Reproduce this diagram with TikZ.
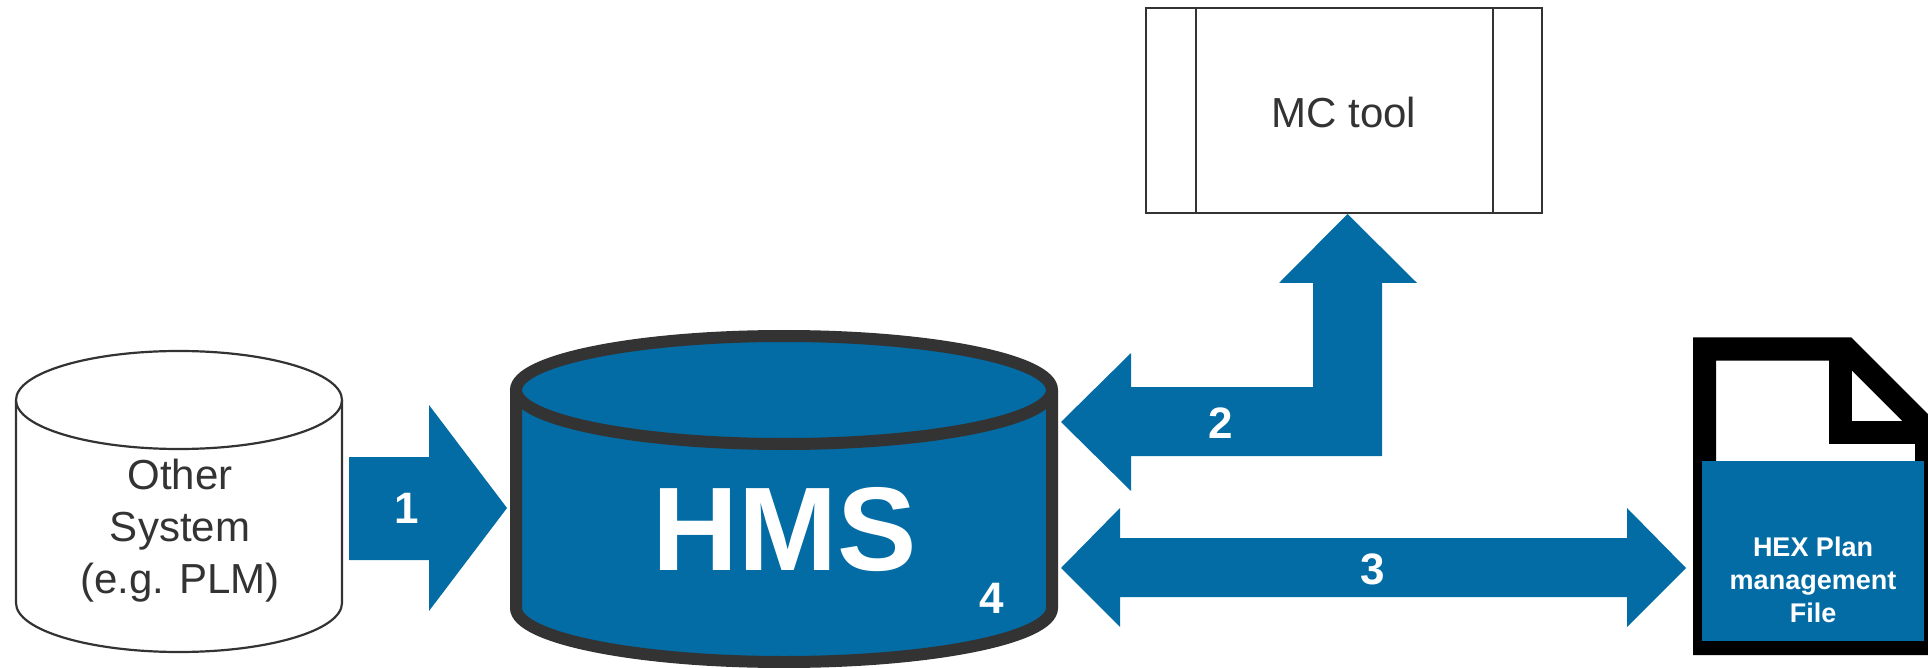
\documentclass[tikz,border=0pt]{standalone}
\usepackage{fontspec}
\setmainfont{Liberation Sans}
\definecolor{hmsblue}{RGB}{3,108,165}
\definecolor{ink}{RGB}{51,51,51}

\begin{document}
\begin{tikzpicture}[x=1pt,y=1pt,
  blockarrow/.style={fill=hmsblue,draw=none},
  numlabel/.style={text=white,inner sep=0pt,font=\fontsize{44}{44}\selectfont\bfseries},
  graytext/.style={text=ink,inner sep=0pt,align=center,font=\fontsize{42}{52}\selectfont},
  thinline/.style={draw=ink,line width=2.2pt},
  docline/.style={draw=black,line width=23pt,line join=miter}]
\useasboundingbox (0,0) rectangle (1928,-668);

% Other System: plain cylinder
\path[thinline,fill=white] (16,-400) -- (16,-603)
  arc[start angle=180,end angle=360,x radius=163,y radius=49] -- (342,-400);
\path[thinline,fill=white] (179,-400) ellipse[x radius=163,y radius=49];
\node[graytext] (other) at (180,-531) {Other\\System\\(e.g. PLM)};

% HMS: filled cylinder with heavy outline
\path[draw=ink,line width=12pt,fill=hmsblue] (516,-390) -- (516,-608)
  arc[start angle=180,end angle=360,x radius=268,y radius=54] -- (1052,-390);
\path[draw=ink,line width=12pt,fill=hmsblue] (784,-390) ellipse[x radius=268,y radius=54];
\node[text=white,inner sep=0pt,font=\fontsize{119}{119}\selectfont\bfseries] (hms) at (785,-530) {HMS};
\node[numlabel] (n4) at (992,-598) {4};

% MC tool: predefined-process box
\draw[draw=ink,line width=2.5pt] (1146,-8) rectangle (1542,-213);
\draw[draw=ink,line width=2.5pt] (1196,-8) -- (1196,-213) (1493,-8) -- (1493,-213);
\node[graytext] (mc) at (1344,-112) {MC tool};

% HEX plan file: document icon with folded corner
\path[docline] (1704.5,-643.5) -- (1704.5,-349) -- (1846.5,-349) -- (1926.5,-429) -- (1926.5,-643.5) -- cycle;
\path[docline] (1840,-349) -- (1840,-432) -- (1926.5,-432);
\fill[hmsblue] (1702,-461) rectangle (1924,-641);
\node[text=white,inner sep=0pt,align=center,font=\fontsize{27}{33}\selectfont\bfseries] (file) at (1813,-580) {HEX Plan\\management\\File};

% Arrow 1: Other System -> HMS
\path[blockarrow] (349,-457) -- (429,-457) -- (429,-405) -- (507,-508) -- (429,-611) -- (429,-560) -- (349,-560) -- cycle;
\node[numlabel] (n1) at (407,-508) {1};

% Arrow 2: bent two-headed arrow HMS <-> MC tool
\path[blockarrow] (1061,-422) -- (1131,-353) -- (1131,-387) -- (1313,-387) -- (1313,-283) -- (1279,-283)
  -- (1347.5,-214) -- (1417,-283) -- (1382,-283) -- (1382,-456) -- (1131,-456) -- (1131,-491) -- cycle;
\node[numlabel] (n2) at (1221,-423) {2};

% Arrow 3: HMS <-> HEX plan file
\path[blockarrow] (1061,-568) -- (1120,-508) -- (1120,-538) -- (1627,-538) -- (1627,-508) -- (1686,-568)
  -- (1627,-627) -- (1627,-597) -- (1120,-597) -- (1120,-627) -- cycle;
\node[numlabel] (n3) at (1373,-569) {3};
\end{tikzpicture}
\end{document}
